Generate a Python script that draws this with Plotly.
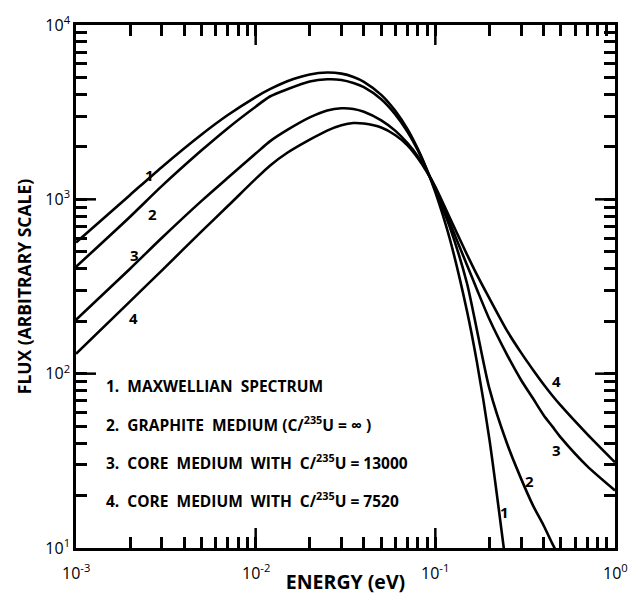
import math
import plotly.graph_objects as go

# ---- data (energy in eV, flux arbitrary) ----
energy = [0.001, 0.002, 0.003, 0.005, 0.007, 0.01, 0.012, 0.015, 0.02, 0.025,
          0.03, 0.035, 0.04, 0.05, 0.06, 0.07, 0.08, 0.09, 0.1, 0.12,
          0.15, 0.17, 0.2, 0.25, 0.3, 0.35, 0.4, 0.45, 0.5, 0.7, 1.0]

# curves 1 and 2 leave the plot through the bottom axis, so their lists are shorter
flux_maxwellian = [565, 1060, 1530, 2355, 3045, 3860, 4285, 4760, 5205, 5340,
                   5260, 5035, 4725, 3975, 3210, 2525, 1940, 1470, 1100, 600,
                   229, 118, 42, 7.3]
flux_graphite = [410, 795, 1190, 1910, 2560, 3400, 3890, 4280, 4740, 4880,
                 4840, 4650, 4400, 3750, 3060, 2440, 1910, 1465, 1130, 700,
                 330, 180, 82, 40, 25, 17.5, 13.5, 10.5, 8.5]
flux_core_13000 = [204, 400, 600, 980, 1330, 1830, 2150, 2500, 2950, 3230,
                   3330, 3300, 3180, 2840, 2470, 2100, 1760, 1440, 1160, 740,
                   420, 306, 205, 129, 92, 72, 58, 49.5, 43, 29.5, 21.4]
flux_core_7520 = [130, 260, 390, 655, 915, 1310, 1560, 1850, 2200, 2480,
                  2660, 2740, 2720, 2580, 2330, 2040, 1720, 1430, 1180, 789,
                  483, 371, 270, 177, 132, 105, 87, 74.5, 65.5, 45, 31]

series = [flux_maxwellian, flux_graphite, flux_core_13000, flux_core_7520]
curve_names = ["1", "2", "3", "4"]

legend_lines = [
    "1.  MAXWELLIAN  SPECTRUM",
    "2.  GRAPHITE  MEDIUM (C/<sup>235</sup>U = \u221e )",
    "3.  CORE  MEDIUM  WITH  C/<sup>235</sup>U = 13000",
    "4.  CORE  MEDIUM  WITH  C/<sup>235</sup>U = 7520",
]

decades_x = [1e-3, 1e-2, 1e-1, 1e0]
decades_y = [1e1, 1e2, 1e3, 1e4]
x_tick_vals = [m * d for d in [1e-3, 1e-2, 1e-1] for m in range(1, 10)] + [1e0]
y_tick_vals = [m * d for d in [1e1, 1e2, 1e3] for m in range(1, 10)] + [1e4]
y_tick_text = ["10<sup>%d</sup>" % round(math.log10(v)) if v in decades_y else ""
               for v in y_tick_vals]

W, H = 642, 603
L, R, T, B = 76, 27, 21, 55
PW, PH = W - L - R, H - T - B
LONG = 20
TICK_W = 2.5


def px(x):
    return (x - L) / PW


def py(y):
    return (H - B - y) / PH


fig = go.Figure()
for vals, name in zip(series, curve_names):
    fig.add_trace(go.Scatter(
        x=energy[:len(vals)], y=vals, mode="lines", name=name,
        line=dict(color="black", width=2.6, shape="spline", smoothing=0.7),
        showlegend=False,
    ))

annotations = []
label_pos = [(143, 160), (146, 211), (128, 253), (127, 316),
             (511, 524), (536, 493), (563, 461), (563, 392)]
label_txt = ["1", "2", "3", "4", "1", "2", "3", "4"]
for (x, y), t in zip(label_pos, label_txt):
    annotations.append(dict(x=px(x), y=py(y), xref="paper", yref="paper",
                            text="<b>%s</b>" % t, showarrow=False,
                            font=dict(size=15, color="black")))
for i, t in enumerate(legend_lines):
    annotations.append(dict(x=px(104), y=py(385 + i * 38.3), xref="paper", yref="paper",
                            xanchor="left", yanchor="middle",
                            text="<b>%s</b>" % t, showarrow=False,
                            font=dict(size=15.5, color="black")))
# x tick labels at the decades, set a little further below the axis
for v in decades_x:
    annotations.append(dict(x=math.log10(v), y=0, xref="x", yref="paper",
                            yanchor="middle", yshift=-24, showarrow=False,
                            text="10<sup>%d</sup>" % round(math.log10(v)),
                            font=dict(size=16, color="black")))

# longer ticks at the interior decades, on all four sides
shapes = []
tick_line = dict(color="black", width=TICK_W)
for v in decades_x[1:-1]:
    shapes.append(dict(type="line", xref="x", yref="paper", x0=v, x1=v,
                       ysizemode="pixel", yanchor=0, y0=0, y1=LONG, line=tick_line))
    shapes.append(dict(type="line", xref="x", yref="paper", x0=v, x1=v,
                       ysizemode="pixel", yanchor=1, y0=0, y1=-LONG, line=tick_line))
for v in decades_y[1:-1]:
    shapes.append(dict(type="line", yref="y", xref="paper", y0=v, y1=v,
                       xsizemode="pixel", xanchor=0, x0=0, x1=LONG, line=tick_line))
    shapes.append(dict(type="line", yref="y", xref="paper", y0=v, y1=v,
                       xsizemode="pixel", xanchor=1, x0=0, x1=-LONG, line=tick_line))

fig.update_layout(
    width=W, height=H,
    margin=dict(l=L, r=R, t=T, b=B),
    paper_bgcolor="white", plot_bgcolor="white",
    annotations=annotations, shapes=shapes,
    xaxis=dict(type="log", range=[-3, 0], showline=True, linecolor="black", linewidth=2.5,
               mirror="ticks", ticks="inside", ticklen=11, tickwidth=TICK_W,
               tickcolor="black", tickmode="array", tickvals=x_tick_vals,
               showticklabels=False,
               title=dict(text="<b>ENERGY (eV)</b>",
                          font=dict(size=19.5, color="black"), standoff=26)),
    yaxis=dict(type="log", range=[1, 4], showline=True, linecolor="black", linewidth=2.5,
               mirror="ticks", ticks="inside", ticklen=11, tickwidth=TICK_W,
               tickcolor="black", tickmode="array", tickvals=y_tick_vals,
               ticktext=y_tick_text, tickfont=dict(size=16, color="black"),
               title=dict(text="<b>FLUX (ARBITRARY SCALE)</b>",
                          font=dict(size=17.5, color="black"), standoff=10)),
)

fig.write_html("out.html")
